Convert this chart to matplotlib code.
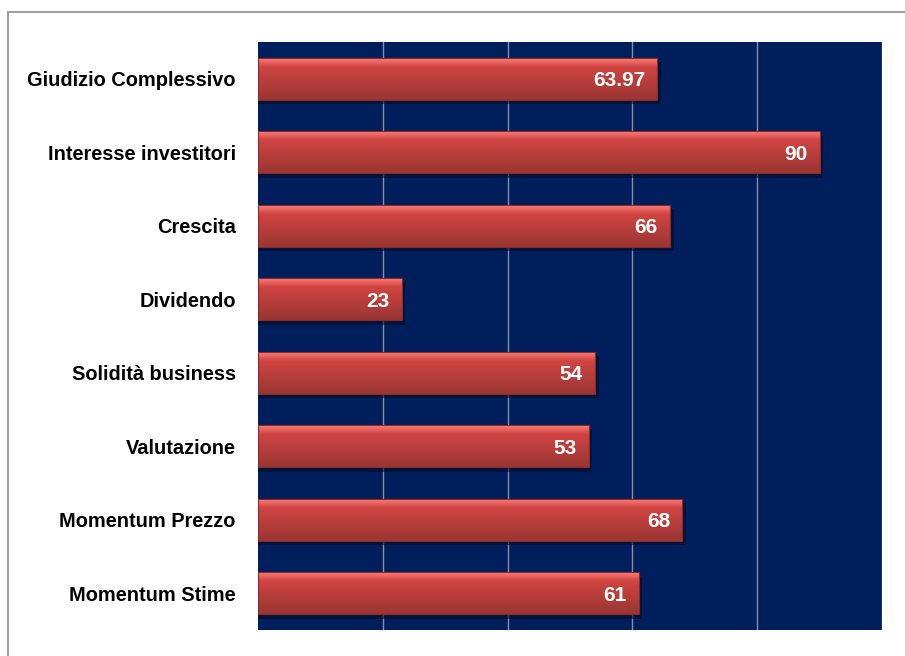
import numpy as np
import matplotlib.pyplot as plt
from matplotlib.patches import Rectangle

# data
categories = ["Giudizio Complessivo", "Interesse investitori", "Crescita", "Dividendo",
              "Solidità business", "Valutazione", "Momentum Prezzo", "Momentum Stime"]
values = [63.97, 90, 66, 23, 54, 53, 68, 61]
value_labels = ["63.97", "90", "66", "23", "54", "53", "68", "61"]

plt.rcParams['font.family'] = ["Liberation Sans", "DejaVu Sans"]

fig = plt.figure(figsize=(9.05, 6.56), dpi=100)
ax = fig.add_axes([258/905, 1-630/656, (882-258)/905, (630-42)/656])
ax.set_facecolor("#001f5c")

# outer border (only top and left show in the picture)
fig.patches.append(Rectangle((8/905, -0.1), 1.2, 1.1-12/656, transform=fig.transFigure,
                             fill=False, edgecolor="#a0a0a0", linewidth=1.5))

y = np.arange(len(categories))
h = 0.57

for gx in [20, 40, 60, 80, 100]:
    ax.axvline(gx, color="#8a8fa0", linewidth=1, zorder=1)

# vertical gradient for the bars
grad = np.linspace(0, 1, 64)
top = np.array([0.98, 0.50, 0.48])
mid = np.array([0.82, 0.27, 0.26])
bot = np.array([0.60, 0.21, 0.20])
cols = np.zeros((64, 1, 3))
for i, t in enumerate(grad):
    if t < 0.2:
        c = top + (mid - top) * (t / 0.2)
    else:
        c = mid + (bot - mid) * ((t - 0.2) / 0.8)
    cols[i, 0] = c

for yi, v, lab in zip(y, values, value_labels):
    # shadow
    ax.add_patch(Rectangle((0, yi - h/2 + 0.06), v + 0.6, h, facecolor="#000a20",
                           alpha=0.55, edgecolor="none", zorder=2))
    ax.imshow(cols, extent=(0, v, yi + h/2, yi - h/2), aspect="auto", zorder=3,
              interpolation="bilinear")
    ax.add_patch(Rectangle((0, yi - h/2), v, h, fill=False, edgecolor="#8c2a28",
                           linewidth=0.8, zorder=4))
    ax.text(v - 1.9, yi + 0.03, lab, color="white", fontsize=15, fontweight="bold",
            ha="right", va="center", zorder=5)

ax.set_xlim(0, 100)
ax.set_ylim(len(categories) - 0.5, -0.5)
ax.set_yticks(y)
ax.set_yticklabels(categories, fontsize=14.4, fontweight="bold")
ax.set_xticks([])
ax.tick_params(axis="y", length=0, pad=16)
for s in ax.spines.values():
    s.set_visible(False)

plt.savefig("out.png", dpi=100)
